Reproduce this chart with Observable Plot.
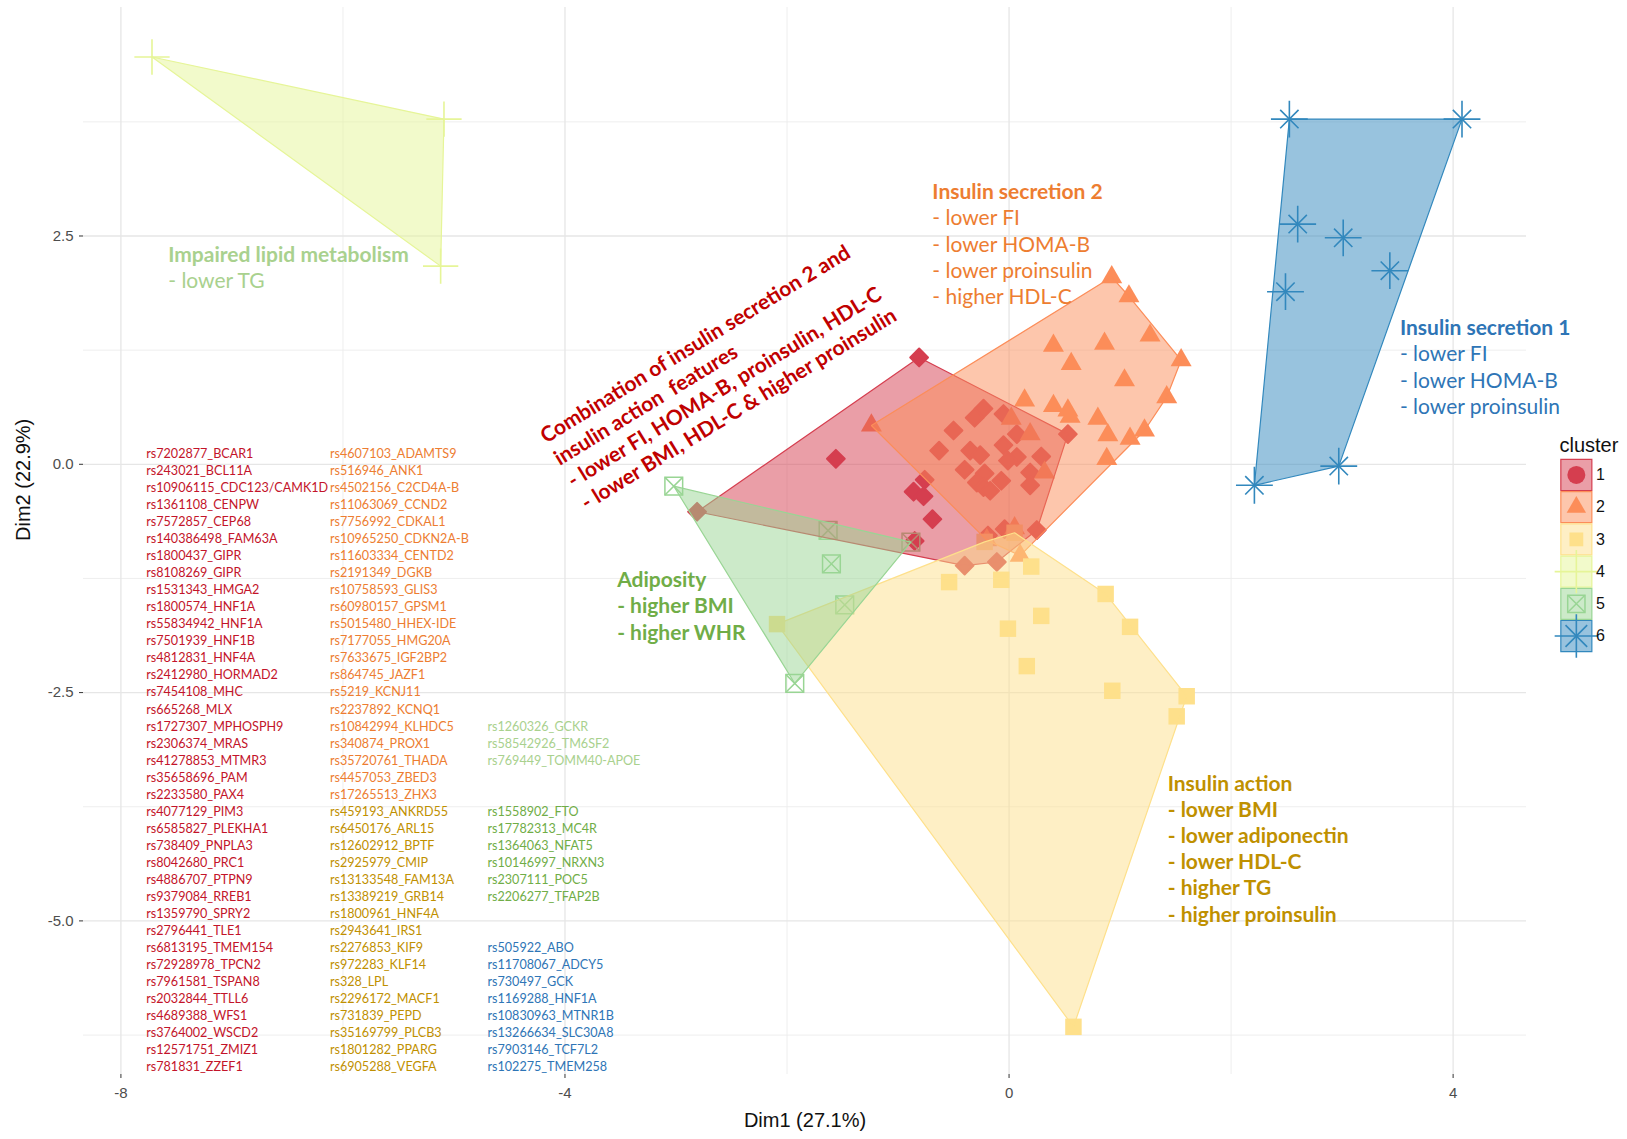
<!DOCTYPE html>
<html>
<head>
<meta charset="utf-8">
<script src="https://cdn.jsdelivr.net/npm/d3@7"></script>
<script src="https://cdn.jsdelivr.net/npm/@observablehq/plot@0.6"></script>
<style>
  html, body { margin: 0; padding: 0; background: #fff; }
  #chart svg { display: block; }
</style>
</head>
<body>
<div id="chart"></div>
<script>
// ---------------- DATA ----------------
const clusterIds = ["1", "2", "3", "4", "5", "6"];
const clusterColors = ["#D53E4F", "#FC8D59", "#FEE08B", "#E6F598", "#99D594", "#3288BD"];

// [Dim1, Dim2] per cluster
const cluster1 = [
  [-0.81, 1.17], [-1.56, 0.06], [-2.81, -0.52], [-0.76, -0.17], [-0.86, -0.30], [-0.77, -0.35],
  [-0.69, -0.60], [-0.85, -0.84], [-0.19, -0.78], [0.53, 0.33], [0.25, -0.72], [-0.23, 0.61],
  [-0.31, 0.51], [-0.05, 0.55], [-0.50, 0.37], [0.07, 0.33], [-0.05, 0.21], [-0.63, 0.15],
  [-0.35, 0.15], [-0.26, 0.10], [0.07, 0.08], [-0.01, 0.04], [0.29, 0.085], [-0.40, -0.06],
  [-0.22, -0.10], [0.19, -0.09], [-0.29, -0.20], [-0.07, -0.18], [-0.23, -0.25], [-0.17, -0.29],
  [0.19, -0.23], [-0.04, -0.71], [-0.40, -1.11], [-0.11, -1.07]
];
const cluster2 = [
  [0.925, 2.05], [1.08, 1.84], [1.27, 1.41], [1.55, 1.14], [1.42, 0.735], [0.86, 1.32],
  [0.40, 1.30], [0.56, 1.10], [1.04, 0.92], [0.14, 0.70], [0.40, 0.64], [0.53, 0.59],
  [0.55, 0.52], [0.80, 0.50], [0.19, 0.33], [0.89, 0.32], [1.09, 0.28], [1.22, 0.37],
  [0.88, 0.06], [0.32, -0.09], [0.02, 0.50], [-1.24, 0.425], [0.10, -1.00], [-0.20, -0.83],
  [0.05, -0.70]
];
const cluster3 = [
  [-0.54, -1.29], [-0.07, -1.265], [0.20, -1.12], [0.87, -1.42], [0.29, -1.66], [-0.01, -1.80],
  [1.09, -1.78], [-2.09, -1.75], [0.16, -2.21], [0.93, -2.48], [1.60, -2.54], [1.51, -2.76],
  [-0.22, -0.85], [0.05, -0.75], [0.58, -6.16]
];
const cluster4 = [[-7.72, 4.46], [-5.09, 3.78], [-5.12, 2.17]];
const cluster5 = [[-3.02, -0.24], [-1.63, -0.725], [-0.884, -0.853], [-1.60, -1.09], [-1.48, -1.54], [-1.93, -2.40]];
const cluster6 = [[2.525, 3.78], [4.08, 3.78], [2.60, 2.63], [3.01, 2.48], [3.43, 2.12], [2.49, 1.89], [2.97, -0.02], [2.21, -0.23]];

const xTicks = [-8, -4, 0, 4];
const xMinor = [-6, -2, 2];
const yTicks = [2.5, 0, -2.5, -5];
const yMinor = [3.75, 1.25, -1.25, -3.75, -6.25];

const snpRed = ["rs7202877_BCAR1", "rs243021_BCL11A", "rs10906115_CDC123/CAMK1D", "rs1361108_CENPW", "rs7572857_CEP68",
  "rs140386498_FAM63A", "rs1800437_GIPR", "rs8108269_GIPR", "rs1531343_HMGA2", "rs1800574_HNF1A", "rs55834942_HNF1A",
  "rs7501939_HNF1B", "rs4812831_HNF4A", "rs2412980_HORMAD2", "rs7454108_MHC", "rs665268_MLX", "rs1727307_MPHOSPH9",
  "rs2306374_MRAS", "rs41278853_MTMR3", "rs35658696_PAM", "rs2233580_PAX4", "rs4077129_PIM3", "rs6585827_PLEKHA1",
  "rs738409_PNPLA3", "rs8042680_PRC1", "rs4886707_PTPN9", "rs9379084_RREB1", "rs1359790_SPRY2", "rs2796441_TLE1",
  "rs6813195_TMEM154", "rs72928978_TPCN2", "rs7961581_TSPAN8", "rs2032844_TTLL6", "rs4689388_WFS1", "rs3764002_WSCD2",
  "rs12571751_ZMIZ1", "rs781831_ZZEF1"];
const snpOrange = ["rs4607103_ADAMTS9", "rs516946_ANK1", "rs4502156_C2CD4A-B", "rs11063069_CCND2", "rs7756992_CDKAL1",
  "rs10965250_CDKN2A-B", "rs11603334_CENTD2", "rs2191349_DGKB", "rs10758593_GLIS3", "rs60980157_GPSM1", "rs5015480_HHEX-IDE",
  "rs7177055_HMG20A", "rs7633675_IGF2BP2", "rs864745_JAZF1", "rs5219_KCNJ11", "rs2237892_KCNQ1", "rs10842994_KLHDC5",
  "rs340874_PROX1", "rs35720761_THADA", "rs4457053_ZBED3", "rs17265513_ZHX3"];
const snpGold = ["rs459193_ANKRD55", "rs6450176_ARL15", "rs12602912_BPTF", "rs2925979_CMIP", "rs13133548_FAM13A",
  "rs13389219_GRB14", "rs1800961_HNF4A", "rs2943641_IRS1", "rs2276853_KIF9", "rs972283_KLF14", "rs328_LPL",
  "rs2296172_MACF1", "rs731839_PEPD", "rs35169799_PLCB3", "rs1801282_PPARG", "rs6905288_VEGFA"];
const snpLightGreen = ["rs1260326_GCKR", "rs58542926_TM6SF2", "rs769449_TOMM40-APOE"];
const snpGreen = ["rs1558902_FTO", "rs17782313_MC4R", "rs1364063_NFAT5", "rs10146997_NRXN3", "rs2307111_POC5", "rs2206277_TFAP2B"];
const snpBlue = ["rs505922_ABO", "rs11708067_ADCY5", "rs730497_GCK", "rs1169288_HNF1A", "rs10830963_MTNR1B",
  "rs13266634_SLC30A8", "rs7903146_TCF7L2", "rs102275_TMEM258"];

const lipidTitle = "Impaired lipid metabolism";
const lipidLines = ["- lower TG"];
const sec2Title = "Insulin secretion 2";
const sec2Lines = ["- lower FI", "- lower HOMA-B", "- lower proinsulin", "- higher HDL-C"];
const sec1Title = "Insulin secretion 1";
const sec1Lines = ["- lower FI", "- lower HOMA-B", "- lower proinsulin"];
const adipTitle = "Adiposity";
const adipLines = ["- higher BMI", "- higher WHR"];
const actionTitle = "Insulin action";
const actionLines = ["- lower BMI", "- lower adiponectin", "- lower HDL-C", "- higher TG", "- higher proinsulin"];
const comboLines = ["Combination of insulin secretion 2 and", "insulin action\u00a0 features",
  "- lower FI, HOMA-B, proinsulin, HDL-C", "- lower BMI, HDL-C & higher proinsulin"];

// ---------------- BUILD ----------------
const clusterArrays = [cluster1, cluster2, cluster3, cluster4, cluster5, cluster6];
const points = clusterArrays.flatMap((arr, i) => arr.map(([x, y]) => ({x, y, cluster: clusterIds[i]})));
const pts = id => points.filter(d => d.cluster === id);
const col = id => clusterColors[clusterIds.indexOf(id)];

const ANN = "Lato, 'Open Sans', sans-serif";
const annFont = 21;
const annStep = 0.287;          // line step in Dim2 units
function rows(lines, x0, y0, step) { return lines.map((t, i) => ({t, x: x0, y: y0 - i * step})); }

// SNP list layout (rows in Dim2 units)
const snpY0 = 0.114, snpStep = 0.1866;
const snpCols = [-7.772, -6.117, -4.698];
function snpRows(list, colIdx, rowStart) {
  return list.map((t, i) => ({t, x: snpCols[colIdx], y: snpY0 - (rowStart + i) * snpStep}));
}
const snpGroups = [
  [snpRed, 0, 0, "#C3142A"],
  [snpOrange, 1, 0, "#ED7D31"],
  [snpGold, 1, 21, "#BF9000"],
  [snpLightGreen, 2, 16, "#A9D18E"],
  [snpGreen, 2, 21, "#70AD47"],
  [snpBlue, 2, 29, "#2E75B6"]
];

const blocks = [
  {title: lipidTitle, lines: lipidLines, x: -7.574, y: 2.292, color: "#A9D18E", bold: false},
  {title: sec2Title, lines: sec2Lines, x: -0.691, y: 2.977, color: "#ED7D31", bold: false},
  {title: sec1Title, lines: sec1Lines, x: 3.521, y: 1.488, color: "#2E75B6", bold: false},
  {title: adipTitle, lines: adipLines, x: -3.530, y: -1.273, color: "#70AD47", bold: true},
  {title: actionTitle, lines: actionLines, x: 1.429, y: -3.500, color: "#BF9000", bold: true}
];

// legend layout
const legX = 5.11, legY0 = -0.117, legStep = 0.3527;
const legend = clusterIds.map((c, i) => ({c, x: legX, y: legY0 - i * legStep}));
const leg = id => legend.filter(d => d.c === id);

const marks = [
  Plot.gridX(xMinor, {stroke: "#ececec", strokeOpacity: 1, strokeWidth: 0.9}),
  Plot.gridY(yMinor, {stroke: "#ececec", strokeOpacity: 1, strokeWidth: 0.9}),
  Plot.gridX(xTicks, {stroke: "#e6e6e6", strokeOpacity: 1, strokeWidth: 1.3}),
  Plot.gridY(yTicks, {stroke: "#e6e6e6", strokeOpacity: 1, strokeWidth: 1.3}),
  Plot.axisX({ticks: xTicks, tickFormat: d => String(d), tickSize: 4, tickPadding: 9, fontSize: 15, label: null, fill: "#4d4d4d", stroke: "#333"}),
  Plot.axisY({ticks: yTicks, tickFormat: d => d.toFixed(1), tickSize: 4, tickPadding: 6, fontSize: 15, label: null, fill: "#4d4d4d", stroke: "#333"}),
  Plot.text(["Dim1 (27.1%)"], {frameAnchor: "bottom", dy: 52, fontSize: 20, fill: "#111"}),
  Plot.text(["Dim2 (22.9%)"], {frameAnchor: "left", dx: -60, rotate: -90, fontSize: 20, fill: "#111"}),

  // points (drawn under the hulls)
  Plot.dot(pts("1"), {x: "x", y: "y", symbol: "diamond2", r: 8, fill: col("1"), stroke: col("1"), strokeWidth: 2, strokeLinejoin: "round"}),
  Plot.dot(pts("2"), {x: "x", y: "y", symbol: "triangle", r: 7.8, fill: col("2")}),
  Plot.dot(pts("3"), {x: "x", y: "y", symbol: "square", r: 9.3, fill: col("3")}),
  Plot.dot(pts("4"), {x: "x", y: "y", symbol: "plus", r: 11.4, stroke: col("4"), strokeWidth: 1.6}),
  Plot.dot(pts("5"), {x: "x", y: "y", symbol: "square2", r: 11.3, stroke: col("5"), strokeWidth: 1.5}),
  Plot.dot(pts("5"), {x: "x", y: "y", symbol: "times", r: 8.1, stroke: col("5"), strokeWidth: 1.5}),
  Plot.dot(pts("6"), {x: "x", y: "y", symbol: "plus", r: 11.9, stroke: col("6"), strokeWidth: 1.6}),
  Plot.dot(pts("6"), {x: "x", y: "y", symbol: "times", r: 8.4, stroke: col("6"), strokeWidth: 1.6}),

  // convex hulls
  Plot.hull(points, {x: "x", y: "y", fill: "cluster", stroke: "cluster", fillOpacity: 0.5, strokeWidth: 1.2}),

  // SNP lists
  ...snpGroups.map(([list, c, r0, color]) =>
    Plot.text(snpRows(list, c, r0), {x: "x", y: "y", text: "t", textAnchor: "start", fontSize: 12.6, fontFamily: ANN, fill: color})),

  // annotation blocks
  ...blocks.flatMap(b => [
    Plot.text([{t: b.title, x: b.x, y: b.y}], {x: "x", y: "y", text: "t", textAnchor: "start", fontSize: annFont, fontWeight: "bold", fontFamily: ANN, fill: b.color}),
    Plot.text(rows(b.lines, b.x, b.y - annStep, annStep), {x: "x", y: "y", text: "t", textAnchor: "start", fontSize: annFont, fontWeight: b.bold ? "bold" : "normal", fontFamily: ANN, fill: b.color})
  ]),

  // rotated combination annotation
  Plot.text([{t: comboLines.join("\n"), x: -3.803, y: -0.505}], {x: "x", y: "y", text: "t", textAnchor: "start", lineAnchor: "bottom",
    lineHeight: 1.24, rotate: -31.5, fontSize: 21, fontWeight: "bold", fontFamily: ANN, fill: "#C00000"}),

  // legend
  Plot.text([{t: "cluster", x: 4.958, y: 0.206}], {x: "x", y: "y", text: "t", textAnchor: "start", fontSize: 20, fill: "#111"}),
  Plot.dot(legend, {x: "x", y: "y", symbol: "square", r: 17.5, fill: "c", fillOpacity: 0.5, stroke: "c", strokeWidth: 1.2}),
  Plot.dot(leg("1"), {x: "x", y: "y", symbol: "circle", r: 9, fill: col("1")}),
  Plot.dot(leg("2"), {x: "x", y: "y", symbol: "triangle", r: 7.2, fill: col("2")}),
  Plot.dot(leg("3"), {x: "x", y: "y", symbol: "square", r: 7.8, fill: col("3")}),
  Plot.dot(leg("4"), {x: "x", y: "y", symbol: "plus", r: 14, stroke: col("4"), strokeWidth: 1.6}),
  Plot.dot(leg("5"), {x: "x", y: "y", symbol: "square2", r: 11, stroke: col("5"), strokeWidth: 1.5}),
  Plot.dot(leg("5"), {x: "x", y: "y", symbol: "times", r: 7.8, stroke: col("5"), strokeWidth: 1.5}),
  Plot.dot(leg("6"), {x: "x", y: "y", symbol: "plus", r: 14, stroke: col("6"), strokeWidth: 1.6}),
  Plot.dot(leg("6"), {x: "x", y: "y", symbol: "times", r: 9.9, stroke: col("6"), strokeWidth: 1.6}),
  Plot.text(legend, {x: 5.288, y: "y", text: "c", textAnchor: "start", fontSize: 16, fill: "#111"})
];

const chart = Plot.plot({
  width: 1627,
  height: 1139,
  marginLeft: 83,
  marginRight: 101,
  marginTop: 7,
  marginBottom: 65,
  x: {domain: [-8.337, 4.661]},
  y: {domain: [-6.682, 5.002]},
  color: {domain: clusterIds, range: clusterColors},
  style: {fontFamily: "'Liberation Sans', Arial, sans-serif", background: "#fff", overflow: "visible", color: "#333"},
  marks
});
document.getElementById("chart").appendChild(chart);
</script>
</body>
</html>
